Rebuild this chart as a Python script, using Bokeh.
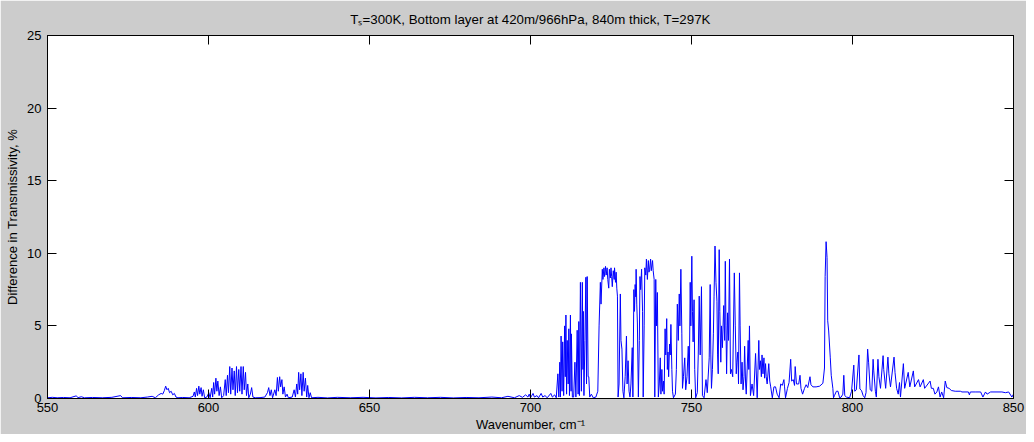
from bokeh.plotting import figure
from bokeh.models import LinearAxis, FixedTicker, CustomLabelingPolicy
from bokeh.embed import file_html
from bokeh.resources import INLINE

# ---------------- data ----------------
band_550_x = [550.0, 551.5, 553.0, 555.0, 557.0, 558.9, 559.5, 560.5, 561.5, 564.0,
              567.0, 570.0, 572.7, 573.3, 576.0, 579.0, 581.0, 582.5, 583.5, 584.5,
              585.3, 585.8, 586.3, 586.7, 587.1, 587.5, 587.9, 588.4, 588.9, 589.4,
              589.9, 590.5]
band_550_y = [0.05, 0.08, 0.05, 0.07, 0.05, 0.18, 0.06, 0.12, 0.05, 0.07,
              0.05, 0.08, 0.2, 0.05, 0.07, 0.05, 0.1, 0.15, 0.05, 0.25,
              0.35, 0.3, 0.55, 0.85, 0.6, 0.7, 0.4, 0.5, 0.25, 0.35,
              0.1, 0.05]

band_590_x = [592.0, 594.0, 595.2, 595.6, 595.9, 596.3, 596.6, 597.0, 597.3, 597.7,
              598.0, 598.4, 598.8, 599.5, 600.1, 600.5, 601.0, 601.3, 601.6, 601.9,
              602.3, 602.6, 602.9, 603.3, 603.7, 604.1, 604.7, 605.2, 605.5, 605.9,
              606.2, 606.6, 606.9, 607.3, 607.6, 608.0, 608.3, 608.7, 609.0, 609.4,
              609.7, 610.1, 610.4, 610.8, 611.1, 611.5, 611.8, 612.2, 612.5, 613.0,
              613.4, 613.8, 614.5, 616.0, 617.5, 618.3, 618.7, 619.1, 619.5, 619.9,
              620.6, 621.0, 621.4, 621.7, 622.1, 622.4, 622.8, 623.1, 623.5, 623.9,
              624.4, 624.8, 626.0, 626.6, 627.0, 627.4, 627.7, 628.0, 628.3, 628.7,
              629.0, 629.4, 629.7, 630.1, 630.5, 630.8, 631.2, 631.6, 632.0]
band_590_y = [0.07, 0.05, 0.15, 0.45, 0.1, 0.7, 0.2, 0.85, 0.3, 0.75,
              0.15, 0.6, 0.05, 0.1, 0.4, 0.05, 0.7, 0.1, 1.1, 0.3,
              1.4, 0.5, 1.2, 0.2, 0.8, 0.05, 0.2, 1.3, 0.2, 1.6,
              0.4, 2.2, 0.3, 2.1, 0.6, 1.9, 0.2, 2.2, 0.4, 2.0,
              0.5, 2.2, 0.3, 2.2, 0.6, 1.8, 0.2, 1.0, 0.05, 0.3,
              0.75, 0.1, 0.05, 0.06, 0.1, 0.4, 0.75, 0.2, 0.6, 0.05,
              0.6, 0.2, 1.45, 0.5, 1.5, 0.8, 1.3, 0.3, 0.8, 0.1,
              0.3, 0.05, 0.1, 0.6, 0.1, 1.0, 0.3, 1.8, 0.6, 1.7,
              0.2, 1.8, 0.5, 1.4, 0.1, 0.9, 0.05, 0.4, 0.05]

band_633_x = [634.0, 637.0, 640.0, 644.0, 648.0, 652.0, 656.0, 660.0, 664.0, 668.0,
              672.0, 676.0, 680.0, 684.0, 688.0, 691.0, 693.0, 695.0, 696.5, 697.5,
              698.5, 699.2, 699.6, 700.0, 700.8, 701.2, 702.0, 702.5, 703.3, 703.8,
              704.5, 705.2, 706.3, 706.8, 707.5, 708.0]
band_633_y = [0.08, 0.04, 0.08, 0.05, 0.08, 0.04, 0.07, 0.04, 0.08, 0.05,
              0.08, 0.04, 0.07, 0.05, 0.1, 0.05, 0.15, 0.05, 0.2, 0.08,
              0.25, 0.1, 0.3, 0.05, 0.35, 0.1, 0.2, 0.05, 0.35, 0.1,
              0.2, 0.05, 0.35, 0.1, 0.25, 0.05]

band_708_x = [708.5, 708.8, 709.1, 709.3, 709.5, 709.8, 710.0, 710.3, 710.6, 710.8,
              711.0, 711.2, 711.4, 711.7, 711.9, 712.1, 712.4, 712.6, 712.7, 713.0,
              713.4, 713.8, 714.1, 714.5, 714.8, 715.0, 715.2, 715.5, 715.8, 716.1,
              716.3, 716.4, 716.6, 716.9, 717.2, 717.4, 717.6, 717.9, 718.1, 718.4,
              718.9, 719.5, 720.3, 720.9, 721.3, 721.7, 721.9, 722.3, 722.5, 722.8,
              723.0, 723.3, 723.5, 723.8, 724.0, 724.3, 724.5, 724.8, 725.0, 725.2,
              725.4, 725.7, 726.0, 726.1, 726.4, 726.6, 726.8, 727.0, 727.2, 727.5,
              727.9, 728.1, 728.4, 728.7, 729.0, 729.4, 729.8, 730.0, 730.3, 730.6,
              730.9, 731.2, 731.6, 731.8, 732.1, 732.3, 732.5, 732.7, 732.8, 733.0,
              733.2, 733.5, 733.8, 734.0, 734.2, 734.5, 734.8, 735.0, 735.3, 735.5,
              735.8, 736.0, 736.3, 736.6, 736.8, 737.0, 737.3, 737.5, 737.9, 738.1,
              738.4, 738.6, 738.9, 739.1, 739.4, 739.7]
band_708_y = [1.7, 0.1, 2.5, 0.1, 4.3, 0.5, 3.9, 0.2, 5.0, 1.5,
              5.75, 0.3, 4.0, 1.0, 4.8, 0.2, 5.75, 0.5, 4.45, 0.1,
              0.1, 2.5, 0.1, 4.7, 0.3, 5.3, 0.2, 8.0, 0.5, 8.0,
              2.0, 6.0, 0.2, 4.0, 8.35, 1.0, 8.4, 1.5, 1.5, 0.1,
              0.3, 0.05, 0.1, 0.5, 5.0, 8.0, 6.5, 8.9, 8.2, 9.0,
              8.4, 9.1, 8.5, 9.0, 8.2, 7.6, 8.9, 8.3, 9.0, 8.4,
              7.7, 8.8, 8.2, 9.0, 8.0, 8.7, 7.6, 7.05, 0.1, 1.0,
              7.2, 4.0, 3.4, 0.5, 0.05, 1.5, 4.3, 1.0, 2.6, 0.5,
              0.1, 1.0, 3.5, 0.1, 7.5, 6.0, 7.85, 7.0, 8.9, 6.5,
              5.2, 0.1, 4.0, 8.4, 7.5, 8.9, 6.0, 0.1, 5.0, 9.0,
              8.5, 9.6, 8.2, 9.5, 8.7, 8.9, 9.6, 8.8, 9.5, 8.8,
              8.2, 0.1, 8.2, 5.0, 7.3, 0.1]

band_740_x = [740.0, 740.3, 740.5, 740.8, 741.0, 741.3, 741.5, 741.8, 742.0, 742.3,
              742.5, 742.7, 742.9, 743.2, 743.4, 743.6, 743.9, 744.1, 744.4, 745.0,
              745.3, 745.6, 745.9, 746.2, 746.4, 746.7, 747.0, 747.2, 747.5, 747.9,
              748.2, 748.6, 749.0, 749.3, 749.6, 749.8, 750.1, 750.3, 750.5, 750.8,
              751.0, 751.3, 751.8, 752.1, 752.4, 752.7, 753.1, 753.4, 753.9, 754.5,
              754.9, 755.5, 755.8, 756.0, 756.2, 756.5, 756.8, 757.0, 757.3, 757.6,
              757.9, 758.1, 758.3, 758.6, 758.8, 759.1, 759.3, 759.6, 760.0, 760.3,
              760.5, 760.7, 760.9, 761.2, 761.5, 761.8, 762.1, 762.4, 762.8, 763.3,
              763.6, 763.9, 764.1, 764.4, 764.6, 764.9, 765.1, 765.4, 765.7, 766.0,
              766.3, 766.5, 766.8, 767.0, 767.3, 767.6, 767.8, 768.0, 768.3, 768.8,
              769.3, 769.9]
band_740_y = [1.0, 2.8, 0.3, 2.0, 0.5, 1.2, 0.3, 4.8, 3.0, 5.5,
              2.0, 3.2, 1.5, 3.75, 3.0, 5.1, 2.0, 0.5, 0.05, 0.3,
              2.0, 6.5, 4.0, 7.2, 5.0, 8.9, 4.5, 0.7, 1.5, 2.8,
              0.6, 1.5, 3.6, 1.0, 8.0, 5.0, 9.8, 6.0, 3.9, 6.8,
              2.0, 0.05, 0.4, 3.0, 7.05, 3.0, 7.7, 0.2, 0.05, 1.3,
              0.4, 2.8, 7.85, 3.0, 0.7, 2.0, 4.5, 7.0, 10.5, 8.0,
              6.7, 3.0, 1.7, 10.25, 6.0, 2.5, 5.0, 3.5, 6.4, 4.0,
              9.45, 5.0, 1.7, 5.9, 4.0, 9.6, 1.7, 2.0, 1.5, 8.65,
              5.0, 1.7, 2.5, 3.2, 1.0, 8.65, 5.0, 1.0, 2.5, 0.6,
              1.5, 3.6, 1.0, 0.3, 2.1, 4.0, 2.0, 5.0, 0.2, 1.0,
              0.2, 3.1]

band_770_x = [770.4, 770.9, 771.1, 771.4, 771.7, 771.9, 772.2, 772.5, 772.7, 773.0,
              773.2, 773.5, 774.0, 774.3, 774.6, 775.1, 775.6, 776.1, 776.6, 777.2,
              777.7, 778.2, 778.7, 778.9, 779.2, 779.8, 780.3, 780.8, 781.1, 781.6,
              782.0, 782.2, 782.6, 783.3, 783.7, 784.0, 784.5, 785.1, 785.6, 786.1,
              786.8, 787.1, 787.7, 788.7, 789.8, 790.8, 791.3, 791.5, 791.8, 792.1,
              792.3, 792.6, 793.1, 793.4, 793.9, 794.1, 794.4, 795.0, 795.5, 796.0,
              796.5, 797.0, 797.3, 797.6, 798.1, 799.1, 799.7, 800.4, 800.7, 801.2,
              802.0, 802.3, 802.8, 803.3, 803.8, 804.2]
band_770_y = [0.05, 4.0, 2.0, 2.6, 1.5, 3.0, 1.7, 2.8, 1.4, 2.4,
              1.5, 1.0, 2.4, 1.2, 0.8, 0.05, 0.8, 0.8, 0.3, 0.05,
              1.0, 0.9, 1.3, 0.8, 0.05, 0.7, 1.1, 2.7, 1.2, 1.3,
              0.9, 2.2, 1.0, 1.0, 1.6, 0.7, 0.3, 0.7, 0.95, 0.75,
              1.5, 0.95, 0.8, 0.8, 0.85, 1.05, 2.1, 8.4, 10.8, 9.7,
              5.35, 4.65, 2.8, 1.6, 0.7, 0.05, 0.2, 0.5, 0.5, 0.05,
              0.1, 0.3, 1.6, 0.2, 0.1, 0.05, 0.5, 2.3, 0.5, 0.6,
              3.0, 0.65, 0.55, 0.2, 0.05, 0.4]

band_805_x = [804.7, 805.0, 805.5, 806.0, 806.4, 806.6, 807.1, 807.4, 807.9, 808.2,
              808.7, 809.5, 809.7, 810.3, 811.0, 811.3, 811.8, 812.9, 813.2, 813.7,
              814.2, 814.6, 814.9, 815.8, 816.2, 817.3, 817.8, 818.9, 819.3, 820.5,
              821.0, 822.0, 822.4, 824.1, 824.5, 825.1, 825.6, 826.2, 826.7, 827.2,
              827.7, 828.3, 828.8, 829.3, 830.0, 830.7, 831.9, 833.5, 834.0, 836.0,
              836.3, 836.6, 838.1, 839.8, 840.5, 841.3, 841.8, 842.9, 846.4, 847.5,
              848.5, 849.5, 850.0]
band_805_y = [3.4, 2.5, 0.6, 0.5, 2.7, 1.9, 0.5, 0.1, 2.7, 1.5,
              0.7, 2.95, 2.0, 0.7, 2.85, 1.7, 0.8, 2.85, 1.8, 0.7,
              0.3, 1.1, 0.1, 2.4, 0.7, 1.8, 0.8, 1.9, 0.8, 1.3,
              0.8, 1.3, 0.7, 1.2, 0.7, 0.7, 0.3, 0.45, 0.8, 0.1,
              0.45, 0.05, 1.2, 0.75, 0.7, 0.55, 0.5, 0.5, 0.45, 0.45,
              0.25, 0.45, 0.45, 0.45, 0.1, 0.45, 0.3, 0.45, 0.45, 0.4,
              0.45, 0.1, 0.3]

x_ticks = [550, 600, 650, 700, 750, 800, 850]
y_ticks = [0, 5, 10, 15, 20, 25]

title_text = "T\u209B=300K, Bottom layer at 420m/966hPa, 840m thick, T=297K"
x_label = "Wavenumber, cm\u207B\u00B9"
y_label = "Difference in Transmissivity, %"

bands_x = [band_550_x, band_590_x, band_633_x, band_708_x, band_740_x, band_770_x, band_805_x]
bands_y = [band_550_y, band_590_y, band_633_y, band_708_y, band_740_y, band_770_y, band_805_y]
wavenumber, diff_pct = [], []
for bx, by in zip(bands_x, bands_y):
    assert len(bx) == len(by), (bx[0], len(bx), len(by))
    wavenumber += bx
    diff_pct += by

# ---------------- figure ----------------
FONT = "Liberation Sans"
GRAY = "#cccccc"

p = figure(width=1026, height=434, x_range=(550, 850), y_range=(0, 25),
           output_backend="svg", toolbar_location=None,
           min_border_left=47, min_border_right=13, min_border_top=33, min_border_bottom=36,
           background_fill_color="white", border_fill_color=GRAY,
           outline_line_color="black")
p.xgrid.grid_line_color = None
p.ygrid.grid_line_color = None

p.title.text = title_text
p.title.text_font = FONT
p.title.text_font_size = "13.3px"
p.title.text_font_style = "normal"
p.title.text_color = "black"
p.title.align = "center"
p.title.offset = -6
p.title.standoff = 18

hide_all = CustomLabelingPolicy(code="for (const i of indices) indices.unset(i)")


def style_axis(ax, ticks, show_labels):
    ax.ticker = FixedTicker(ticks=ticks)
    ax.major_tick_in = 9
    ax.major_tick_out = 0
    ax.minor_tick_line_color = None
    ax.axis_line_color = "black"
    ax.major_tick_line_color = "black"
    ax.major_label_text_color = "black"
    ax.major_label_text_font = FONT
    ax.axis_label_text_font = FONT
    ax.axis_label_text_font_size = "13px"
    ax.axis_label_text_font_style = "normal"
    ax.axis_label_text_color = "black"
    if show_labels:
        ax.major_label_text_font_size = "13px"
        ax.major_label_standoff = 5
    else:
        ax.major_label_text_font_size = "0px"
        ax.major_label_standoff = 0
        ax.major_label_policy = hide_all


style_axis(p.xaxis[0], x_ticks, True)
style_axis(p.yaxis[0], y_ticks, True)
p.xaxis[0].axis_label = x_label
p.xaxis[0].major_label_standoff = 4
p.xaxis[0].axis_label_standoff = 2
p.yaxis[0].axis_label = y_label
p.yaxis[0].major_label_standoff = 6
p.yaxis[0].axis_label_standoff = 4

top_ax = LinearAxis()
right_ax = LinearAxis()
style_axis(top_ax, x_ticks, False)
style_axis(right_ax, y_ticks, False)
p.add_layout(top_ax, "above")
p.add_layout(right_ax, "right")

p.line(wavenumber, diff_pct, line_color="#0000ff", line_width=1)

open("out.html", "w").write(file_html(p, INLINE))
